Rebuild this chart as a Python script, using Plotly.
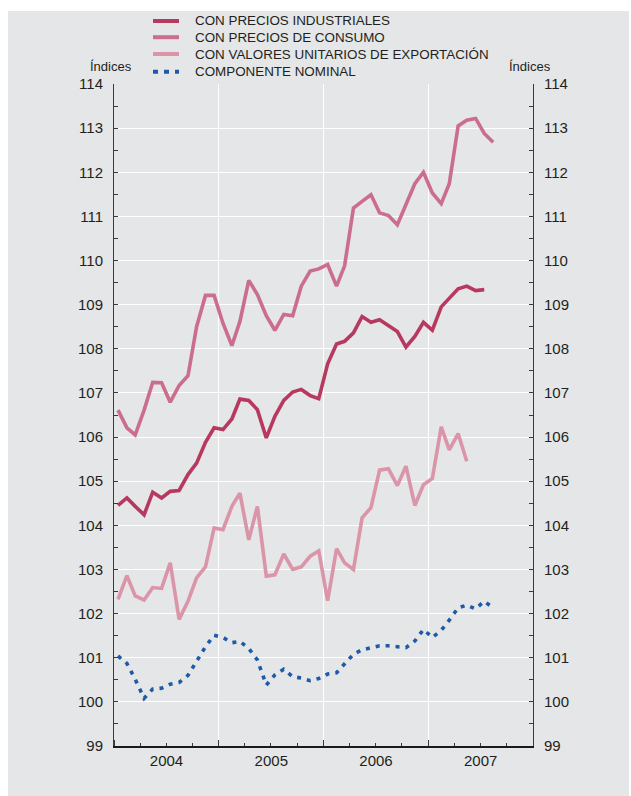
import pandas as pd
import plotly.graph_objects as go

# Monthly series, January 2004 onwards (plotted mid-month)
meses = pd.date_range("2004-01-01", periods=44, freq="MS") + pd.Timedelta(days=14)

industriales = [104.45, 104.62, 104.43, 104.24, 104.75, 104.62, 104.77, 104.79, 105.15, 105.41,
                105.88, 106.21, 106.17, 106.41, 106.86, 106.83, 106.62, 105.98, 106.47, 106.83,
                107.02, 107.08, 106.94, 106.87, 107.66, 108.11, 108.17, 108.36, 108.73, 108.60,
                108.66, 108.53, 108.39, 108.04, 108.28, 108.60, 108.42, 108.95, 109.15, 109.36,
                109.42, 109.32, 109.34]

consumo = [106.61, 106.21, 106.05, 106.61, 107.24, 107.23, 106.79, 107.17, 107.39, 108.50,
           109.21, 109.21, 108.58, 108.07, 108.62, 109.55, 109.23, 108.75, 108.42, 108.78,
           108.75, 109.42, 109.76, 109.81, 109.91, 109.42, 109.88, 111.19, 111.34, 111.49,
           111.08, 111.02, 110.81, 111.27, 111.74, 112.00, 111.53, 111.29, 111.74, 113.05,
           113.18, 113.22, 112.88, 112.68]

exportacion = [102.32, 102.86, 102.40, 102.31, 102.59, 102.57, 103.15, 101.87, 102.28, 102.81,
               103.06, 103.94, 103.90, 104.43, 104.73, 103.67, 104.43, 102.85, 102.88, 103.35,
               103.00, 103.06, 103.30, 103.42, 102.29, 103.47, 103.15, 103.00, 104.17, 104.40,
               105.25, 105.28, 104.90, 105.34, 104.45, 104.92, 105.06, 106.23, 105.71, 106.08,
               105.45]

nominal = [101.04, 100.87, 100.51, 100.08, 100.29, 100.31, 100.40, 100.44, 100.60, 100.93,
           101.25, 101.51, 101.46, 101.34, 101.37, 101.21, 100.95, 100.38, 100.61, 100.74,
           100.57, 100.54, 100.48, 100.53, 100.63, 100.66, 100.85, 101.08, 101.18, 101.23,
           101.27, 101.27, 101.24, 101.23, 101.38, 101.64, 101.46, 101.62, 101.85, 102.13,
           102.19, 102.11, 102.28, 102.13]

nombres = ["CON PRECIOS INDUSTRIALES", "CON PRECIOS DE CONSUMO",
           "CON VALORES UNITARIOS DE EXPORTACIÓN", "COMPONENTE NOMINAL"]
colores = ["#b8395f", "#cb6d8c", "#da95a9", "#1f5aa8"]
trazos = [None, None, None, "4px,6px"]

FONT = "Liberation Sans, Arial, Helvetica, sans-serif"
GRIS = "#e5e6e7"
TEXTO = "#231f20"
EJE = "#3a3a3a"

fig = go.Figure()
series = [industriales, consumo, exportacion, nominal]
for nombre, valores, color, trazo in zip(nombres, series, colores, trazos):
    estilo = dict(color=color, width=3.6)
    if trazo:
        estilo["dash"] = trazo
    fig.add_trace(go.Scatter(x=meses[:len(valores)], y=valores, name=nombre,
                             mode="lines", line=estilo, showlegend=False))

# invisible trace so the right-hand axis is drawn
fig.add_trace(go.Scatter(x=[meses[0]], y=[consumo[0]], yaxis="y2", mode="markers",
                         marker=dict(opacity=0), showlegend=False, hoverinfo="skip"))

eje_y = dict(range=[99, 114], dtick=1, tick0=99, ticks="inside", ticklen=4,
             tickcolor=EJE, showline=True, linecolor=EJE, linewidth=1,
             showgrid=True, gridcolor="white", gridwidth=1.2, zeroline=False,
             ticklabelstandoff=7,
             tickfont=dict(family=FONT, size=15, color=TEXTO),
             minor=dict(dtick=0.5, ticks="inside", ticklen=4, tickcolor=EJE, showgrid=False))

# key placed above the plot area: sample line + label per series
shapes = [dict(type="rect", xref="paper", yref="paper", x0=-0.253, x1=1.229,
               y0=-0.0755, y1=1.1103, fillcolor=GRIS, line=dict(width=0), layer="below")]
annotations = [
    dict(text="Índices", xref="paper", yref="paper", x=-0.0072, y=1.0257,
         xanchor="center", yanchor="middle", showarrow=False,
         font=dict(family=FONT, size=13, color=TEXTO)),
    dict(text="Índices", xref="paper", yref="paper", x=0.9928, y=1.0257,
         xanchor="center", yanchor="middle", showarrow=False,
         font=dict(family=FONT, size=13, color=TEXTO)),
]
filas_y = [1.0952, 1.0707, 1.0453, 1.0186]
for nombre, color, trazo, fy in zip(nombres, colores, trazos, filas_y):
    linea = dict(color=color, width=4)
    if trazo:
        linea["dash"] = "5px,6px"
    shapes.append(dict(type="line", xref="paper", yref="paper", x0=0.0931, x1=0.1551,
                       y0=fy, y1=fy, line=linea))
    annotations.append(dict(text=nombre, xref="paper", yref="paper", x=0.1885, y=fy,
                            xanchor="left", yanchor="middle", showarrow=False,
                            font=dict(family=FONT, size=13.4, color=TEXTO)))

fig.update_layout(
    width=631, height=796,
    margin=dict(l=114, r=98, t=84, b=50),
    paper_bgcolor="white", plot_bgcolor=GRIS,
    font=dict(family=FONT, color=TEXTO),
    xaxis=dict(type="date", range=["2004-01-01", "2008-01-01"], dtick="M12",
               tick0="2004-01-01", tickformat="%Y", ticklabelmode="period",
               ticks="inside", ticklen=6, tickcolor=EJE, tickwidth=1.2,
               showline=True, linecolor="#1a1a1a", linewidth=2,
               showgrid=True, gridcolor="white", gridwidth=1.2, zeroline=False,
               tickfont=dict(family=FONT, size=15, color=TEXTO),
               minor=dict(dtick="M3", tick0="2004-01-01", ticks="inside", ticklen=3,
                          tickcolor=EJE, showgrid=False)),
    yaxis=eje_y,
    yaxis2=dict(eje_y, overlaying="y", side="right"),
    showlegend=False,
    shapes=shapes,
    annotations=annotations,
)

fig.write_html("out.html")
